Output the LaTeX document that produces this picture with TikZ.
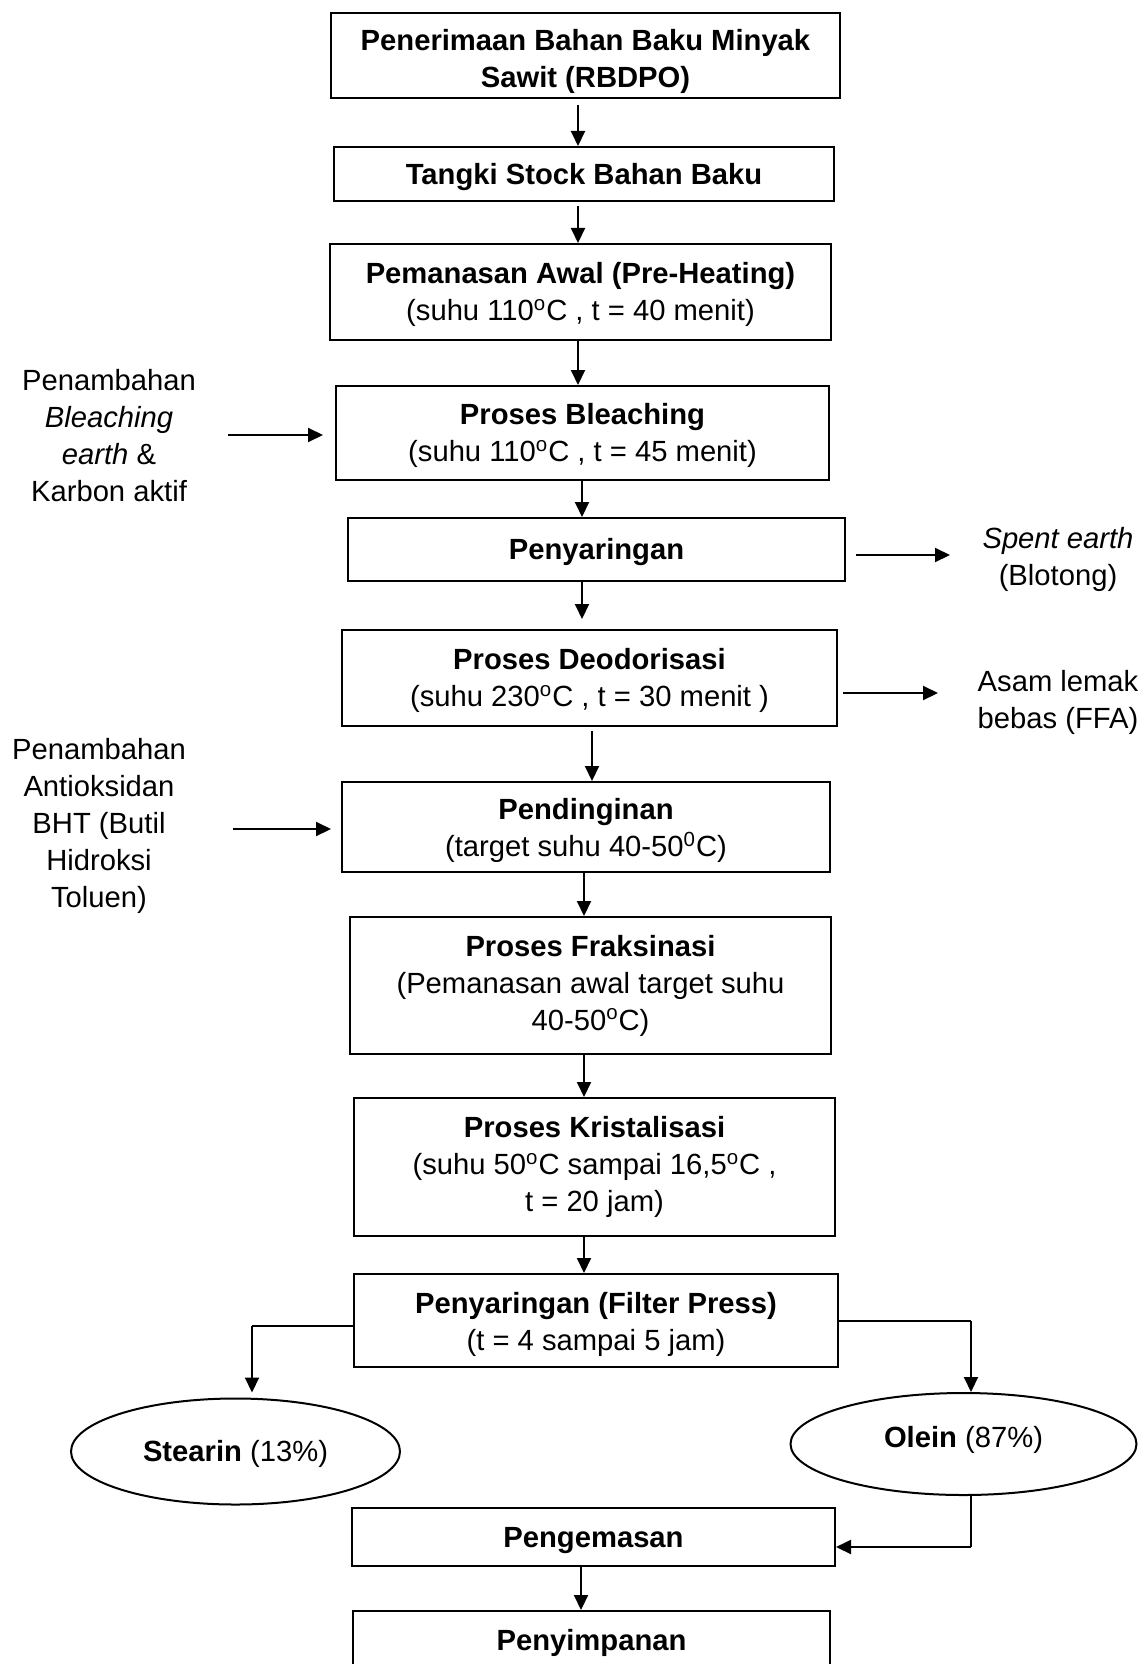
\documentclass[tikz,border=0pt]{standalone}
\usepackage{fontspec}
\setmainfont{Liberation Sans}
\usetikzlibrary{shapes.geometric,arrows.meta}
\newcommand\mystrut{\rule{0pt}{13.4pt}}
\begin{document}
\begin{tikzpicture}[x=0.5pt,y=-0.5pt,
  font=\fontsize{14.6}{18.5}\selectfont,
  bx/.style 2 args={draw, line width=1pt, align=center, inner sep=0pt, minimum width=#1*0.5pt, minimum height=#2*0.5pt},
  el/.style 2 args={draw, ellipse, line width=1pt, inner sep=0pt, minimum width=#1*0.5pt, minimum height=#2*0.5pt},
  arr/.style={line width=1pt, -{Triangle[length=7.5pt,width=7pt]}},
  ln/.style={line width=0.8pt},
  side/.style={align=center, inner sep=0pt}]
\useasboundingbox (0,0) rectangle (1147,1664);
% boxes
\node[bx={509}{85}] (b1) at (585.5,55.5) {\rule{0pt}{16.4pt}\textbf{Penerimaan Bahan Baku Minyak}\\\textbf{Sawit (RBDPO)}};
\node[bx={500}{54}] (b2) at (584,174) {\mystrut\textbf{Tangki Stock Bahan Baku}};
\node[bx={501}{96}] (b3) at (580.5,292) {\mystrut\textbf{Pemanasan Awal (Pre-Heating)}\\(suhu 110\textsuperscript{o}C , t = 40 menit)};
\node[bx={493}{94}] (b4) at (582.5,433) {\mystrut\textbf{Proses Bleaching}\\(suhu 110\textsuperscript{o}C , t = 45 menit)};
\node[bx={497}{63}] (b5) at (596.5,549.5) {\mystrut\textbf{Penyaringan}};
\node[bx={495}{96}] (b6) at (589.5,678) {\mystrut\textbf{Proses Deodorisasi}\\(suhu 230\textsuperscript{o}C , t = 30 menit )};
\node[bx={488}{90}] (b7) at (586,827) {\rule{0pt}{14.4pt}\textbf{Pendinginan}\\(target suhu 40-50\textsuperscript{0}C)};
\node[bx={481}{137}] (b8) at (590.5,985.5) {\textbf{Proses Fraksinasi}\\(Pemanasan awal target suhu\\40-50\textsuperscript{o}C)};
\node[bx={481}{138}] (b9) at (594.5,1167) {\textbf{Proses Kristalisasi}\\(suhu 50\textsuperscript{o}C sampai 16,5\textsuperscript{o}C ,\\t = 20 jam)};
\node[bx={484}{93}] (b10) at (596,1320.5) {\rule{0pt}{14.2pt}\textbf{Penyaringan (Filter Press)}\\(t = 4 sampai 5 jam)};
\node[el={329}{106}] (st) at (235.5,1451.5) {\mystrut\textbf{Stearin} (13\%)};
\node[el={346}{102}] (ol) at (963.5,1444) {};
\node[inner sep=0pt] (olt) at (963.5,1440) {\textbf{Olein} (87\%)};
\node[bx={483}{58}] (b13) at (593.5,1537) {\mystrut\textbf{Pengemasan}};
\node[bx={477}{58}] (b14) at (591.5,1640) {\mystrut\textbf{Penyimpanan}};
% side labels
\node[side] (s1) at (109,435.5) {Penambahan\\\textit{Bleaching}\\\textit{earth} \&\\Karbon aktif};
\node[side] (s2) at (99,826) {Penambahan\\Antioksidan\\BHT (Butil\\Hidroksi\\Toluen)};
\node[side] (s3) at (1058,559) {\textit{Spent earth}\\(Blotong)};
\node[side] (s4) at (1058,702.5) {Asam lemak\\bebas (FFA)};
% side arrows
\coordinate (a1) at (228,435);
\coordinate (a2) at (233,829);
\coordinate (a3) at (950,555);
\coordinate (a4) at (938,693);
\draw[arr, shorten >=6pt] (a1) -- (b4.west |- a1);
\draw[arr, shorten >=5pt] (a2) -- (b7.west |- a2);
\draw[arr, shorten <=5pt] (b5.east |- a3) -- (a3);
\draw[arr, shorten <=2.5pt] (b6.east |- a4) -- (a4);
% vertical arrows
\coordinate (v1) at (578,0);
\coordinate (v2) at (582,0);
\coordinate (v3) at (592,0);
\coordinate (v4) at (584,0);
\coordinate (v5) at (581,0);
\draw[arr, shorten <=3pt] (b1.south -| v1) -- (b2.north -| v1);
\draw[arr, shorten <=2pt] (b2.south -| v1) -- (b3.north -| v1);
\draw[arr] (b3.south -| v1) -- (b4.north -| v1);
\draw[arr] (b4.south -| v2) -- (b5.north -| v2);
\draw[arr, shorten >=5pt] (b5.south -| v2) -- (b6.north -| v2);
\draw[arr, shorten <=2pt] (b6.south -| v3) -- (b7.north -| v3);
\draw[arr] (b7.south -| v4) -- (b8.north -| v4);
\draw[arr] (b8.south -| v4) -- (b9.north -| v4);
\draw[arr] (b9.south -| v4) -- (b10.north -| v4);
\draw[arr] (b13.south -| v5) -- (b14.north -| v5);
% branches
\coordinate (sL) at (252,1326);
\coordinate (sR) at (971,1321);
\coordinate (oB) at (971,1547);
\draw[ln] (b10.west |- sL) -- (sL);
\draw[arr, shorten >=2.5pt] (sL) -- (sL |- st.north);
\draw[ln] (b10.east |- sR) -- (sR);
\draw[arr] (sR) -- (sR |- ol.north);
\draw[ln] (sR |- ol.south) -- (oB);
\draw[arr] (oB) -- (b13.east |- oB);
\end{tikzpicture}
\end{document}
